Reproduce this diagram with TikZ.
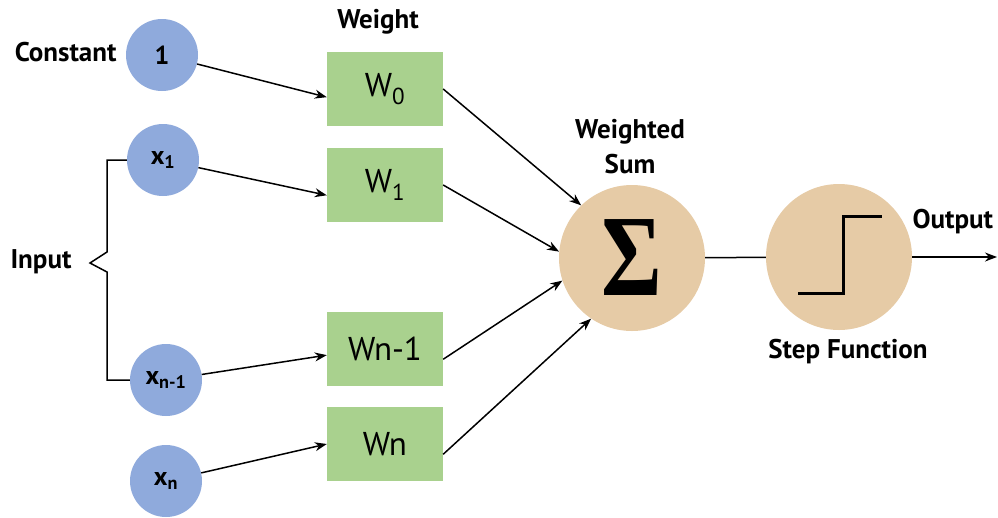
\documentclass[tikz,border=0pt]{standalone}
\usepackage{fontspec}
\setmainfont{PT Sans}
\newfontfamily\sigmafont{Liberation Serif}
\usetikzlibrary{arrows.meta}

\definecolor{inblue}{HTML}{8FAADC}
\definecolor{wgreen}{HTML}{A9D18E}
\definecolor{sumtan}{HTML}{E6CBA6}

\begin{document}
\begin{tikzpicture}[x=1pt,y=-1pt,
  input/.style={circle,fill=inblue,minimum size=72pt,inner sep=0pt,
    font=\fontsize{26}{26}\selectfont\bfseries},
  weight/.style={rectangle,fill=wgreen,minimum width=116pt,minimum height=74pt,
    font=\fontsize{33}{33}\selectfont},
  unit/.style={circle,fill=sumtan,minimum size=146pt,inner sep=0pt},
  lbl/.style={font=\fontsize{27}{35}\selectfont\bfseries,align=center},
  arr/.style={-{Stealth[length=12pt,width=9pt]},line width=1.5pt},
  plain/.style={line width=1.5pt},
]

  \useasboundingbox (0,0) rectangle (998,517);

  % Inputs
  \node[input] (c0)  at (162,55)  {1};
  \node[input] (x1)  at (163,160) {x\textsubscript{1}};
  \node[input] (xn1) at (166,380) {x\textsubscript{n-1}};
  \node[input] (xn)  at (166,481) {x\textsubscript{n}};

  \node[lbl,anchor=east] at (120,52) {Constant};
  \node[lbl,anchor=west] at (7,262) {Input};

  % Brace joining the inputs
  \coordinate (bt) at (107,160);
  \coordinate (bb) at (107,380);
  \coordinate (tip) at (90,263);
  \draw[plain] (x1.west) -- (bt) -- (107,252) -- (tip) -- (107,272) -- (bb) -- (xn1.west);

  % Weights
  \node[lbl] at (378,22) {Weight};
  \node[weight] (w0)  at (385,89)  {W\textsubscript{0}};
  \node[weight] (w1)  at (385,185) {W\textsubscript{1}};
  \node[weight] (wn1) at (385,349) {Wn-1};
  \node[weight] (wn)  at (385,444) {Wn};

  \draw[arr] (c0)  -- (w0.188);
  \draw[arr] (x1)  -- (w1.190);
  \draw[arr] (xn1) -- (wn1.186);
  \draw[arr] (xn)  -- (wn.west);

  % Weighted sum
  \node[unit] (sum) at (632,258) {\scalebox{0.8}[1]{\sigmafont\fontsize{116}{116}\selectfont\bfseries\char"03A3}};
  \node[lbl] at (630,147) {Weighted\\Sum};

  \draw[arr] (w0.east)  -- (sum.134);
  \draw[arr] (w1.east)  -- (sum.175);
  \draw[arr] (wn1.350)  -- (sum.198);
  \draw[arr] (wn.350)   -- (sum.236);

  % Step function
  \node[unit] (step) at (839,257) {};
  \draw[line width=3pt] ([shift={(-41,36)}]step.center) -- ++(45,0) -- ++(0,-77) -- ++(39,0);
  \node[lbl] at (848,352) {Step Function};

  \draw[plain] (sum) -- (step);

  % Output
  \coordinate (out) at (997,257);
  \draw[arr] (step) -- (out);
  \node[lbl,anchor=west] at (909,222) {Output};

\end{tikzpicture}
\end{document}
